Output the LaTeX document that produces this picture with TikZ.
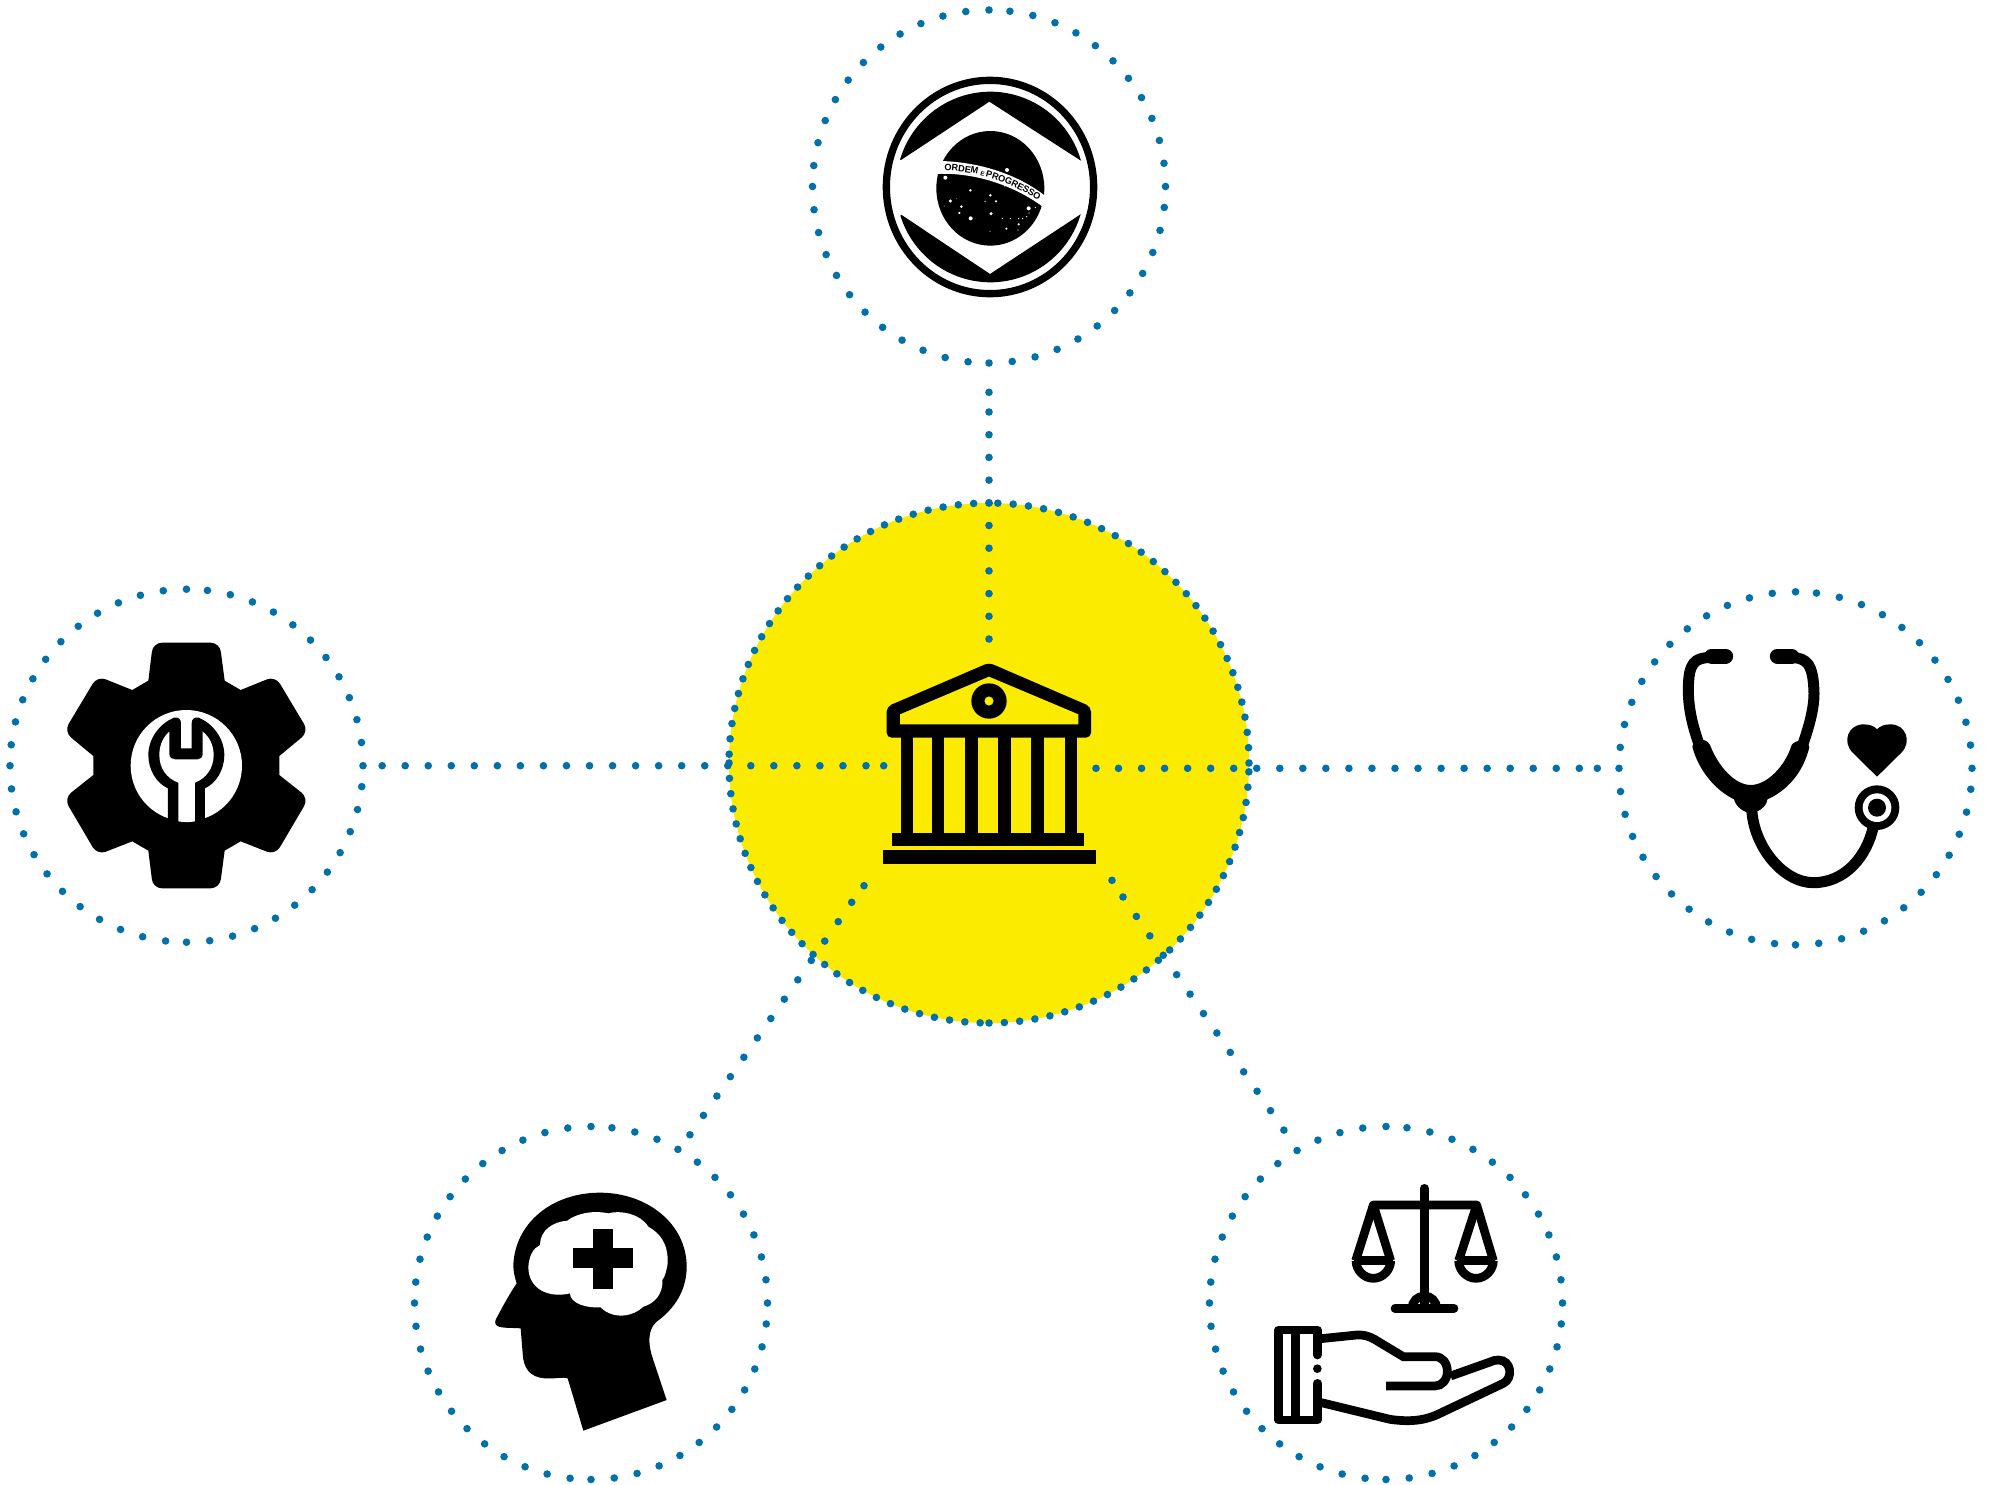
\documentclass[tikz,border=0pt]{standalone}
\usepackage{fontspec}
\setmainfont{Liberation Sans}
\usetikzlibrary{decorations.text}
\definecolor{dotblue}{RGB}{0,112,170}
\definecolor{hubyellow}{RGB}{250,235,0}
\tikzset{
  dotline/.style={line width=7.6pt,color=dotblue,line cap=round,dash pattern=on 0pt off #1},
  hubnode/.style={circle,fill=hubyellow,inner sep=0pt,outer sep=0pt,minimum size=520pt},
  satnode/.style={circle,inner sep=0pt,outer sep=0pt,minimum size=353pt},
  zoomed/.style 2 args={shift={(#1,#2)},x=0.33333pt,y=-0.33333pt},
  ink/.style={fill=black,draw=none},
  thin ink/.style={draw=black,line width=8.7pt,fill=none},
  tube/.style={draw=black,line width=11pt,fill=none}
}
\newcommand\ringdots[3]{%
\draw[dotline=#3] (#1.east) .. controls +(0,-#2) and +(#2,0) .. (#1.north)
 (#1.north) .. controls +(-#2,0) and +(0,-#2) .. (#1.west)
 (#1.west) .. controls +(0,#2) and +(-#2,0) .. (#1.south)
 (#1.south) .. controls +(#2,0) and +(0,#2) .. (#1.east);}
\begin{document}
\begin{tikzpicture}[x=1pt,y=-1pt]
\useasboundingbox (0,0) rectangle (1998,1484);
\fill[white] (0,0) rectangle (1998,1484);
% nodes
\node[hubnode] (hub) at (989,763) {};
\node[satnode] (topsat) at (989,186.5) {};
\node[satnode] (leftsat) at (186.5,765.7) {};
\node[satnode] (rightsat) at (1795.5,768.3) {};
\node[satnode] (blsat) at (591,1303) {};
\node[satnode] (brsat) at (1386,1303) {};
% rings
\ringdots{hub}{143.6}{15.37pt}
\ringdots{topsat}{97.5}{23.3pt}
\ringdots{leftsat}{97.5}{23.3pt}
\ringdots{rightsat}{97.5}{23.3pt}
\ringdots{blsat}{97.5}{23.3pt}
\ringdots{brsat}{97.5}{23.3pt}
% connector ends
\coordinate (topA) at (989,639);
\coordinate (topB) at (989,392.3);
\coordinate (leftA) at (883.7,765.7);
\coordinate (leftB) at (866,765.7);
\coordinate (rightA) at (1096,768.3);
\coordinate (rightB) at (1118.5,768.3);
\coordinate (rightC) at (1597.3,768.3);
\coordinate (blA) at (864,885.7);
\coordinate (blB) at (851.7,902.3);
\coordinate (brA) at (1112,880.3);
\coordinate (brB) at (1123,897);
\draw[dotline=22.7pt,shorten >=10pt] (topA) -- (topB) (topB) -- (topsat.south);
\draw[dotline=23.04pt] (leftA) -- (leftB) (leftB) -- (leftsat.east);
\draw[dotline=23.04pt] (rightA) -- (rightB) (rightB) -- (rightC) (rightC) -- (rightsat.west);
\draw[dotline=23.6pt,shorten >=3pt] (blA) -- (blB) (blB) -- (blsat.60);
\draw[dotline=23.6pt,shorten >=3pt] (brA) -- (brB) (brB) -- (brsat.120);
% bank
\begin{scope}[zoomed={860}{650}]
\fill[ink,rounded corners=5pt] (387,38) -- (693,170) -- (693,263) -- (80,263) -- (80,170) -- cycle;
\fill[hubyellow] (387,80) -- (655,193) -- (655,223) -- (120,223) -- (120,193) -- cycle;
\fill[ink,even odd rule] (387,153) circle (53) (387,153) circle (14);
\foreach \c in {122,215,315,414,514,614} \fill[ink] (\c,260) rectangle (\c+38,550);
\fill[ink] (95,548) rectangle (673,587);
\fill[ink] (69,600) rectangle (708,642);
\end{scope}
% flag emblem
\begin{scope}[zoomed={860}{60}]
\fill[ink,even odd rule] (390,381) ellipse (322 and 331) (390,381) ellipse (300 and 309);
\fill[ink] (123,300) -- plot[domain=163.2:16,samples=40,variable=\t] ({391+283*cos(\t)},{381-286*sin(\t)}) -- (388,125) -- cycle;
\fill[ink] (125,465) -- plot[domain=-162.5:-16.6,samples=40,variable=\t] ({391+283*cos(\t)},{381-286*sin(\t)}) -- (390,642) -- cycle;
\fill[ink] (391,385) ellipse (162 and 172);
\fill[white] (240,303) .. controls (350,305) and (470,340) .. (556,408) -- (548,440) .. controls (460,375) and (340,335) .. (222,342) -- cycle;
\path[decorate,decoration={text along path,text align=center,raise=-3.1pt,
  text={|\fontsize{9.2}{10}\selectfont\bfseries|ORDEM |\fontsize{6}{7}\selectfont\bfseries|E |\fontsize{9.2}{10}\selectfont\bfseries|PROGRESSO}}]
  (238,322) .. controls (345,320) and (465,358) .. (552,424);
\foreach \sx/\sy/\sr in {441/330/6,256/353/6,331/391/4,391/406/4,271/423/5,304/440/4,298/459/3.5,332/475/6,393/461/5,408/424/3.5,375/424/2,506/445/6,526/442/2,507/459/2,427/475/2,451/476/2,476/476/2,488/476/2,500/470/2,476/493/3.5,439/506/3.5,474/510/2,390/514/1.5,252/438/1.5,290/415/1,434/378/2}
  \fill[white] (\sx,\sy) circle (\sr);
\end{scope}
% gear
\begin{scope}[zoomed={50}{620}]
\fill[ink] (295,182) [rounded corners=9pt] -- (309,68) -- (509,68) [sharp corners] -- (524,182) -- (572,210) [rounded corners=9pt] -- (676,168) -- (776,335) [sharp corners] -- (688,408) -- (688,465) [rounded corners=9pt] -- (776,535) -- (676,705) [sharp corners] -- (572,664) -- (524,692) [rounded corners=9pt] -- (509,805) -- (309,805) [sharp corners] -- (295,692) -- (247,664) [rounded corners=9pt] -- (142,705) -- (42,535) [sharp corners] -- (130,465) -- (130,408) [rounded corners=9pt] -- (42,335) -- (142,168) [sharp corners] -- (247,210) -- cycle;
\fill[white] (409,437) circle (167);
\fill[ink] (354,610) -- (354,505) .. controls (320,490) and (295,450) .. (295,405) .. controls (295,355) and (330,310) .. (372,293) .. controls (385,290) and (393,298) .. (393,310) -- (393,385) -- (425,385) -- (425,310) .. controls (425,298) and (433,290) .. (446,293) .. controls (488,310) and (523,355) .. (523,405) .. controls (523,450) and (498,490) .. (465,505) -- (465,610) -- cycle;
\fill[white] (385,604) -- (385,488) .. controls (350,475) and (328,445) .. (328,405) .. controls (328,375) and (340,350) .. (358,335) -- (358,402) .. controls (358,412) and (365,418) .. (374,418) -- (444,418) .. controls (452,418) and (458,412) .. (458,402) -- (458,335) .. controls (478,350) and (491,375) .. (491,405) .. controls (491,445) and (468,475) .. (435,488) -- (435,604) .. controls (420,607) and (400,607) .. (385,604) -- cycle;
\end{scope}
% stethoscope
\begin{scope}[zoomed={1660}{630}]
\draw[black,line width=15pt,line cap=round] (155,78) -- (197,78);
\draw[black,line width=15pt,line cap=round] (352,78) -- (395,78);
\draw[tube] (150,82) .. controls (105,85) and (85,95) .. (85,180) .. controls (85,240) and (100,295) .. (118,345);
\draw[tube] (395,82) .. controls (440,85) and (460,100) .. (462,190) .. controls (462,240) and (445,295) .. (428,345);
\fill[ink] (97,350) .. controls (100,330) and (135,318) .. (150,345) .. controls (175,410) and (225,465) .. (272,465) .. controls (320,465) and (375,410) .. (395,345) .. controls (410,325) and (445,330) .. (448,352) .. controls (430,425) and (385,480) .. (322,508) .. controls (320,530) and (295,548) .. (272,548) .. controls (250,548) and (228,530) .. (222,508) .. controls (165,480) and (115,420) .. (97,350) -- cycle;
\draw[tube] (275,535) .. controls (280,650) and (370,758) .. (460,758) .. controls (555,758) and (620,680) .. (640,590);
\fill[ink] (651,533) circle (67);
\fill[white] (651,533) circle (43);
\fill[ink] (651,533) circle (27);
\fill[ink] (651,440) -- (578,368) .. controls (545,335) and (565,283) .. (610,283) .. controls (628,283) and (643,288) .. (651,298) .. controls (659,288) and (674,283) .. (692,283) .. controls (737,283) and (757,335) .. (724,368) -- cycle;
\end{scope}
% head
\begin{scope}[zoomed={480}{1180}]
\fill[ink] (110,310) .. controls (104,290) and (100,275) .. (100,255) .. controls (105,130) and (215,38) .. (360,38) .. controls (500,38) and (620,130) .. (620,260) .. controls (620,330) and (585,385) .. (530,425) .. controls (500,450) and (505,500) .. (520,540) -- (560,660) -- (310,752) -- (263,595) .. controls (250,590) and (225,597) .. (195,595) .. controls (150,592) and (130,565) .. (128,520) -- (122,445) .. controls (95,443) and (65,445) .. (52,438) .. controls (42,432) and (45,420) .. (52,410) .. controls (70,375) and (90,340) .. (110,310) -- cycle;
\fill[white] (145,260) .. controls (148,225) and (160,205) .. (180,195) .. controls (180,150) and (220,125) .. (262,122) .. controls (290,100) and (340,90) .. (385,100) .. controls (420,90) and (480,100) .. (505,140) .. controls (540,160) and (565,190) .. (563,250) .. controls (560,270) and (555,290) .. (547,300) .. controls (550,340) and (525,370) .. (490,380) .. controls (460,410) and (400,420) .. (362,382) .. controls (320,385) and (270,370) .. (270,340) .. controls (210,355) and (145,330) .. (145,260) -- cycle;
\fill[ink] (338,148) rectangle (398,327);
\fill[ink] (280,205) rectangle (459,265);
\end{scope}
% scales and hand
\begin{scope}[zoomed={1260}{1170}]
\draw[thin ink,line cap=round] (493,55) -- (493,400);
\draw[thin ink,line join=round] (287,272) -- (340,105) -- (650,105) -- (700,272);
\draw[thin ink] (340,105) -- (392,272);
\draw[thin ink] (650,105) -- (596,272);
\draw[thin ink] (282,272) -- (398,272);
\draw[thin ink] (590,272) -- (706,272);
\draw[thin ink] (288,272) .. controls (288,300) and (312,325) .. (340,325) .. controls (368,325) and (392,300) .. (392,272);
\draw[thin ink] (596,272) .. controls (596,300) and (620,325) .. (648,325) .. controls (676,325) and (700,300) .. (700,272);
\draw[thin ink,line cap=round] (405,415) -- (582,415);
\draw[thin ink] (456,415) .. controls (456,395) and (472,378) .. (493,378) .. controls (514,378) and (530,395) .. (530,415);
% cuff
\draw[thin ink,line join=round,line cap=round] (172,555) -- (172,480) -- (56,480) -- (56,750) -- (172,750) -- (172,640);
\draw[thin ink] (106,480) -- (106,750);
\fill[ink] (172,596) circle (13);
% hand
\draw[thin ink] (172,507) -- (290,495) .. controls (320,493) and (340,505) .. (360,518) -- (430,560) -- (525,560) .. controls (548,560) and (562,580) .. (562,604) .. controls (562,630) and (545,648) .. (525,648) -- (378,648);
\draw[thin ink] (172,695) -- (390,748) .. controls (440,755) and (490,755) .. (540,730) -- (730,640) .. controls (760,625) and (755,570) .. (715,570) .. controls (705,570) and (700,572) .. (690,576) -- (572,618);
\end{scope}
\end{tikzpicture}
\end{document}
